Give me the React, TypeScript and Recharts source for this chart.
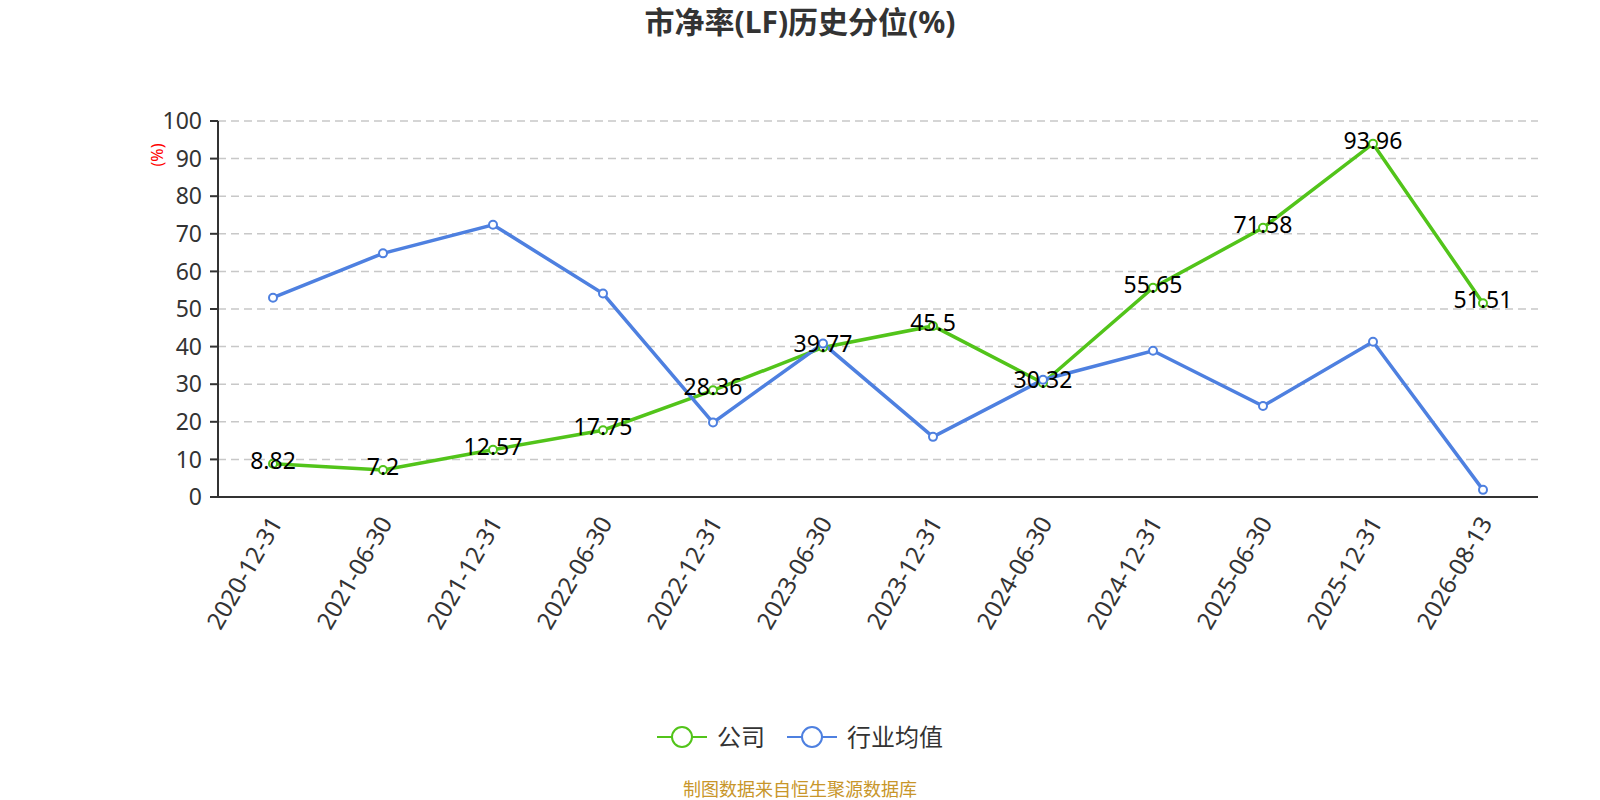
import React from 'react';
import { LineChart, Line, XAxis, YAxis, CartesianGrid, LabelList } from 'recharts';

const dates = [
  '2020-12-31', '2021-06-30', '2021-12-31', '2022-06-30', '2022-12-31', '2023-06-30',
  '2023-12-31', '2024-06-30', '2024-12-31', '2025-06-30', '2025-12-31', '2026-08-13',
];
const company = [8.82, 7.2, 12.57, 17.75, 28.36, 39.77, 45.5, 30.32, 55.65, 71.58, 93.96, 51.51];
const industry = [53.0, 64.8, 72.4, 54.1, 19.8, 40.8, 16.0, 31.2, 38.9, 24.2, 41.3, 1.9];
const yTicks = [0, 10, 20, 30, 40, 50, 60, 70, 80, 90, 100];

const GREEN = '#52c41a';
const BLUE = '#4e80e0';
const FONT = '"Noto Sans", "Noto Sans CJK SC", sans-serif';

const data = dates.map((d, i) => ({
  x: i + 0.5,
  date: d,
  company: company[i],
  industry: industry[i],
}));

// tick marks sit on category boundaries, labels in the middle
const boundaryTicks = dates.map((_, i) => i).concat(dates.length);
const centerTicks = dates.map((_, i) => i + 0.5);

const DateTick = (props: any) => {
  const { x, y, payload } = props;
  const idx = Math.round(payload.value - 0.5);
  const ax = x + 2;
  const ay = y + 12;
  return (
    <text
      x={ax}
      y={ay}
      transform={`rotate(-60, ${ax}, ${ay})`}
      textAnchor="end"
      dominantBaseline="central"
      fill="#333"
      fontSize={24}
      fontFamily={FONT}
    >
      {dates[idx]}
    </text>
  );
};

const ValueLabel = (props: any) => {
  const { x, y, value } = props;
  return (
    <text
      x={x}
      y={y - 4}
      textAnchor="middle"
      dominantBaseline="central"
      fill="#000"
      fontSize={23}
      fontFamily={FONT}
    >
      {value}
    </text>
  );
};

const LegendItem = ({ color, label, gap }: { color: string; label: string; gap: number }) => (
  <div style={{ display: 'flex', alignItems: 'center', marginRight: gap }}>
    <svg width={50} height={24}>
      <line x1={0} y1={12} x2={50} y2={12} stroke={color} strokeWidth={2} />
      <circle cx={25} cy={12} r={10} fill="#fff" stroke={color} strokeWidth={2} />
    </svg>
    <span style={{ marginLeft: 10, fontSize: 24, lineHeight: '24px', color: '#333' }}>{label}</span>
  </div>
);

export default function App() {
  return (
    <div style={{ position: 'fixed', left: 0, top: 0, width: 1600, height: 800, overflow: 'hidden', background: '#fff', fontFamily: FONT }}>
      <div style={{ position: 'absolute', top: 2, left: 0, width: 1600, lineHeight: '40px', textAlign: 'center', fontSize: 30, fontWeight: 'bold', color: '#333' }}>
        市净率(LF)历史分位(%)
      </div>
      <LineChart
        width={1600}
        height={800}
        data={data}
        margin={{ top: 121, right: 62, bottom: 152, left: 158 }}
      >
        <CartesianGrid stroke="#c8c8c8" strokeWidth={1.5} strokeDasharray="8 5" vertical={false} />
        <XAxis
          dataKey="x"
          type="number"
          domain={[0, 12]}
          ticks={boundaryTicks}
          tick={false}
          height={1}
          axisLine={{ stroke: '#333', strokeWidth: 2 }}
          tickLine={{ stroke: '#333', strokeWidth: 2 }}
          tickSize={8}
        />
        <XAxis
          xAxisId="lab"
          dataKey="x"
          type="number"
          domain={[0, 12]}
          ticks={centerTicks}
          tick={<DateTick />}
          axisLine={false}
          tickLine={false}
          height={150}
          interval={0}
        />
        <YAxis
          type="number"
          domain={[0, 100]}
          ticks={yTicks}
          width={60}
          interval={0}
          axisLine={{ stroke: '#333', strokeWidth: 2 }}
          tickLine={{ stroke: '#333', strokeWidth: 2 }}
          tickSize={8}
          tickMargin={8}
          tick={{ fill: '#333', fontSize: 23, fontFamily: FONT }}
        />
        <Line
          dataKey="company"
          stroke={GREEN}
          strokeWidth={3.5}
          dot={{ r: 4, fill: '#fff', stroke: GREEN, strokeWidth: 2 }}
          isAnimationActive={false}
        >
          <LabelList dataKey="company" content={<ValueLabel />} />
        </Line>
        <Line
          dataKey="industry"
          stroke={BLUE}
          strokeWidth={3.5}
          dot={{ r: 4, fill: '#fff', stroke: BLUE, strokeWidth: 2 }}
          isAnimationActive={false}
        />
      </LineChart>
      <div style={{ position: 'absolute', left: 157, top: 155, transform: 'translate(-50%, -50%) rotate(-90deg)', color: 'red', fontSize: 16, lineHeight: '16px' }}>
        (%)
      </div>
      <div style={{ position: 'absolute', top: 725, left: 0, width: 1600, display: 'flex', justifyContent: 'center' }}>
        <div style={{ display: 'flex' }}>
          <LegendItem color={GREEN} label="公司" gap={22} />
          <LegendItem color={BLUE} label="行业均值" gap={0} />
        </div>
      </div>
      <div style={{ position: 'absolute', top: 778, left: 0, width: 1600, lineHeight: '22px', textAlign: 'center', fontSize: 18, color: '#c8962a' }}>
        制图数据来自恒生聚源数据库
      </div>
    </div>
  );
}
